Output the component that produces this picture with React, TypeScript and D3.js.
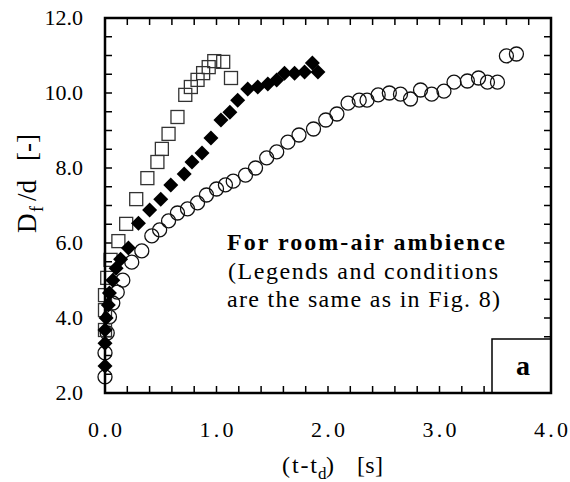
import React from "react";
import * as d3 from "d3";

// open squares
const squareX = [0.0, 0.0, 0.0, 0.02, 0.05, 0.12, 0.19, 0.28, 0.38, 0.47, 0.51, 0.57, 0.65, 0.72, 0.77, 0.83, 0.88, 0.93, 0.98, 1.06, 1.13];
const squareY = [3.68, 4.21, 4.61, 5.07, 5.55, 6.05, 6.51, 7.17, 7.73, 8.16, 8.51, 8.91, 9.36, 9.95, 10.16, 10.35, 10.53, 10.69, 10.85, 10.83, 10.4];

// filled diamonds
const diamondX = [0.0, 0.0, 0.0, 0.01, 0.03, 0.04, 0.07, 0.1, 0.14, 0.21, 0.3, 0.4, 0.5, 0.59, 0.71, 0.78, 0.87, 0.95, 1.04, 1.12, 1.19, 1.28, 1.37, 1.46, 1.54, 1.61, 1.7, 1.79, 1.86, 1.91];
const diamondY = [2.72, 3.33, 3.68, 4.0, 4.35, 4.67, 5.01, 5.33, 5.57, 5.87, 6.53, 6.88, 7.17, 7.55, 7.84, 8.16, 8.4, 8.8, 9.28, 9.49, 9.81, 10.11, 10.16, 10.24, 10.35, 10.53, 10.53, 10.56, 10.8, 10.56];

// open circles
const circleX = [0.0, 0.0, 0.02, 0.04, 0.07, 0.11, 0.16, 0.24, 0.33, 0.42, 0.49, 0.57, 0.65, 0.74, 0.83, 0.91, 1.0, 1.08, 1.15, 1.26, 1.35, 1.45, 1.54, 1.64, 1.74, 1.87, 1.98, 2.08, 2.18, 2.28, 2.35, 2.45, 2.55, 2.65, 2.74, 2.83, 2.93, 3.04, 3.13, 3.25, 3.35, 3.43, 3.52, 3.6, 3.69];
const circleY = [2.43, 3.07, 3.6, 4.03, 4.4, 4.69, 5.01, 5.49, 5.79, 6.19, 6.35, 6.59, 6.8, 6.91, 7.07, 7.28, 7.44, 7.55, 7.65, 7.81, 8.0, 8.27, 8.43, 8.69, 8.88, 9.04, 9.28, 9.44, 9.73, 9.81, 9.81, 9.95, 10.0, 9.97, 9.84, 10.08, 9.97, 10.05, 10.29, 10.32, 10.4, 10.29, 10.29, 10.99, 11.04];

const xLabels = [0, 1, 2, 3, 4];
const yLabels = [2, 4, 6, 8, 10, 12];

const serif = { fontFamily: '"Liberation Serif"' };

export default function App() {
  const left = 105, right = 551, top = 18, bottom = 393;
  const x = d3.scaleLinear().domain([0, 4]).range([left, right]);
  const y = d3.scaleLinear().domain([2, 12]).range([bottom, top]);

  const xMinor = d3.range(0, 4.0001, 0.2);
  const yMinor = d3.range(2, 12.0001, 0.5);
  const tl = 7;

  const sq = 13;
  const dg = 7.5;

  return (
    <svg width={570} height={482} style={{ position: "absolute", left: 0, top: 0, background: "#fff" }}>
      {/* ticks, all four sides pointing in */}
      <g stroke="#000" strokeWidth={1.5}>
        {xMinor.map((v, i) => (
          <g key={"xt" + i}>
            <line x1={x(v)} x2={x(v)} y1={bottom} y2={bottom - tl} />
            <line x1={x(v)} x2={x(v)} y1={top} y2={top + tl} />
          </g>
        ))}
        {yMinor.map((v, i) => (
          <g key={"yt" + i}>
            <line x1={left} x2={left + tl} y1={y(v)} y2={y(v)} />
            <line x1={right} x2={right - tl} y1={y(v)} y2={y(v)} />
          </g>
        ))}
      </g>

      {/* inset "a" box */}
      <rect x={492} y={339} width={right - 492} height={bottom - 339} fill="#fff" stroke="#000" strokeWidth={1.5} />
      <text x={523} y={375} textAnchor="middle" style={serif} fontWeight="bold" fontSize={28}>a</text>

      {/* circles */}
      <g fill="none" stroke="#111" strokeWidth={1.3}>
        {circleX.map((v, i) => (
          <circle key={"c" + i} cx={x(v)} cy={y(circleY[i])} r={7} />
        ))}
      </g>

      {/* squares */}
      <g fill="none" stroke="#333" strokeWidth={1.3}>
        {squareX.map((v, i) => (
          <rect key={"s" + i} x={x(v) - sq / 2} y={y(squareY[i]) - sq / 2} width={sq} height={sq} />
        ))}
      </g>

      {/* diamonds */}
      <g fill="#000">
        {diamondX.map((v, i) => {
          const cx = x(v), cy = y(diamondY[i]);
          return <path key={"d" + i} d={`M${cx},${cy - dg}L${cx + dg},${cy}L${cx},${cy + dg}L${cx - dg},${cy}Z`} />;
        })}
      </g>

      {/* frame */}
      <rect x={left} y={top} width={right - left} height={bottom - top} fill="none" stroke="#000" strokeWidth={2.5} />

      {/* tick labels */}
      <g fill="#000">
        {xLabels.map((v) => (
          <text key={"xl" + v} x={x(v) - 17} y={437} style={serif} fontSize={22}
            textLength={34} lengthAdjust="spacing">{v.toFixed(1)}</text>
        ))}
        {yLabels.map((v) => (
          <text key={"yl" + v} x={83} y={y(v) + 7} textAnchor="end" style={serif} fontSize={22}>{v.toFixed(1)}</text>
        ))}
      </g>

      {/* x title: (t-t_d)   [s] */}
      <g style={serif} fontSize={24}>
        <text x={282} y={473} textLength={35} lengthAdjust="spacing">(t-t</text>
        <text x={318} y={479} fontSize={17}>d</text>
        <text x={326} y={473}>)</text>
        <text x={357} y={473} textLength={26} lengthAdjust="spacing">[s]</text>
      </g>

      {/* y title: D_f/d  [-] */}
      <g transform="translate(36,233) rotate(-90)" style={serif} fontSize={27}>
        <text x={0} y={0} textLength={22} lengthAdjust="spacing">D</text>
        <text x={21} y={7} fontSize={18}>f</text>
        <text x={32} y={0}>/d</text>
        <text x={72} y={0} textLength={27} lengthAdjust="spacing">[-]</text>
      </g>

      {/* annotation */}
      <text x={227} y={250} style={serif} fontSize={24} fontWeight="bold" textLength={278} lengthAdjust="spacing">For room-air ambience</text>
      <text x={228} y={279} style={serif} fontSize={24} textLength={270} lengthAdjust="spacing">(Legends and conditions</text>
      <text x={227} y={307} style={serif} fontSize={24} textLength={273} lengthAdjust="spacing">are the same as in Fig. 8)</text>
    </svg>
  );
}
